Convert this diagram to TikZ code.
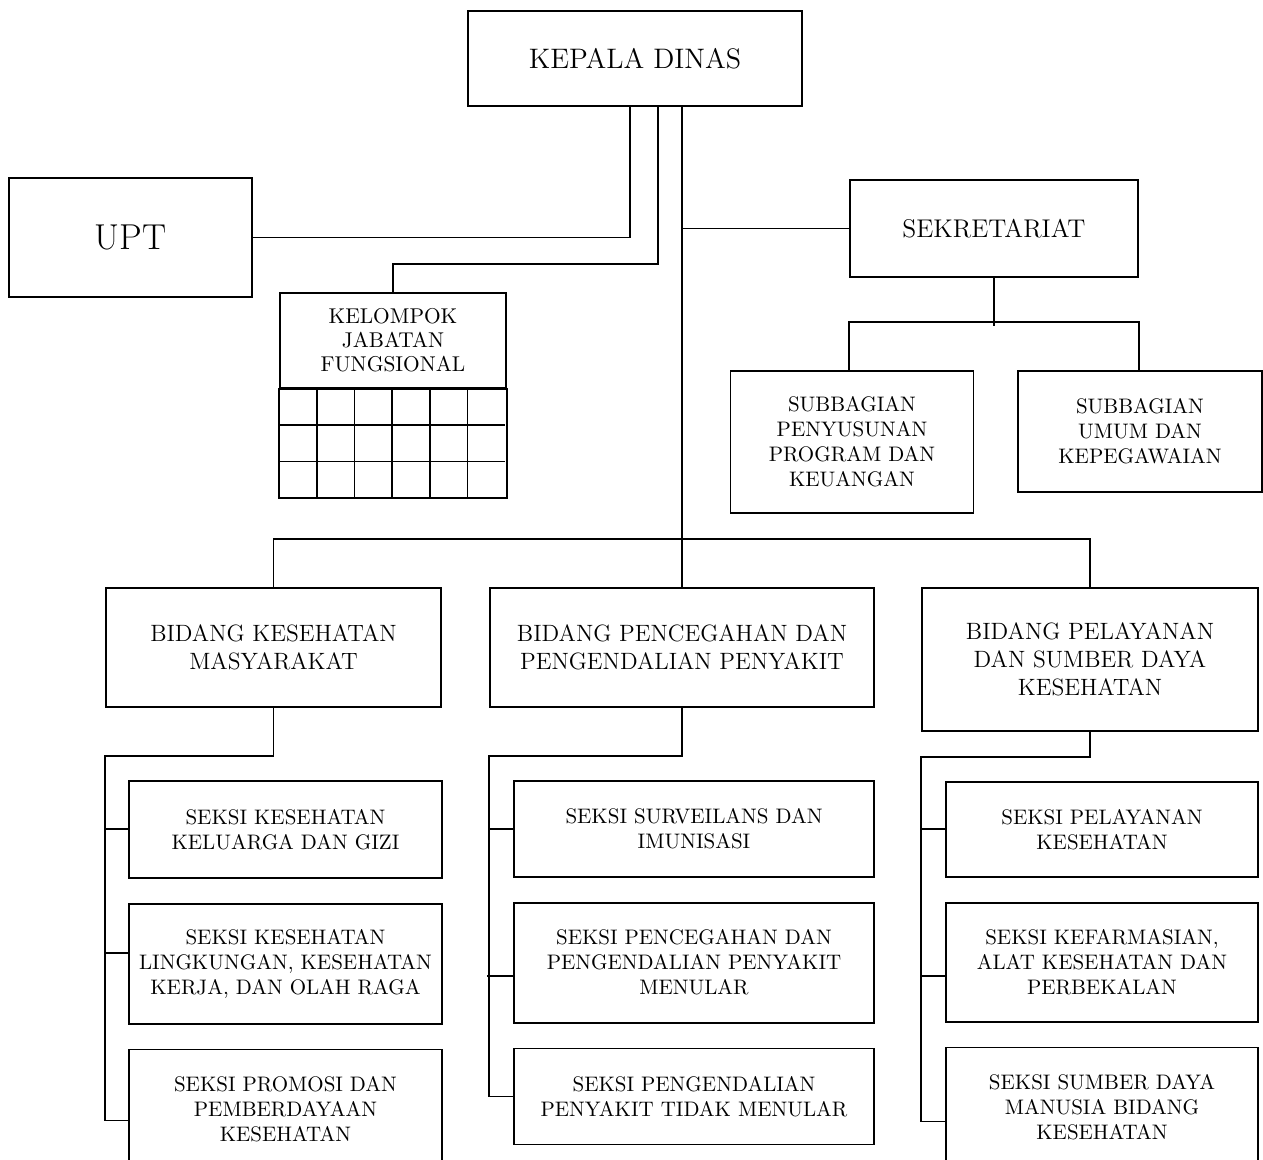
\documentclass[tikz,border=0pt]{standalone}
\usepackage{fontspec}
\usetikzlibrary{positioning}

\begin{document}
\begin{tikzpicture}[x=0.5pt, y=-0.5pt, line width=0.9pt,
        kepala/.style={rectangle, draw, font=\fontsize{14.1}{17}\selectfont, minimum width=167pt, minimum height=47.5pt},
        upt/.style={rectangle, draw, font=\fontsize{18}{21}\selectfont, minimum width=121.5pt, minimum height=59.5pt},
        jabfung/.style={rectangle, draw, font=\fontsize{10.7}{12}\selectfont, minimum width=113pt, minimum height=47.5pt},
        sekre/.style={rectangle, draw, font=\fontsize{12.8}{15}\selectfont, minimum width=144pt, minimum height=48.5pt},
        subbag/.style={rectangle, draw, font=\fontsize{10.5}{12.5}\selectfont, minimum width=121.5pt},
        bidang/.style={rectangle, draw, font=\fontsize{11.8}{14}\selectfont, minimum height=59.5pt},
        seksi/.style={rectangle, draw, font=\fontsize{10.5}{12.5}\selectfont},
    ]
\useasboundingbox (0,0) rectangle (1263,1160);

\node[kepala, align=center] (KepalaDinas) at (635,58.5) {KEPALA DINAS};
\node[upt, align=center] (UPT) at (130.5,237.5) {UPT};
\node[jabfung, align=center] (JabFung) at (393,340.5) {KELOMPOK\\JABATAN\\FUNGSIONAL};
\draw (JabFung.south west) rectangle ([yshift=-54.5pt]JabFung.south east);
\foreach \i in {1,...,5}
    \draw ([xshift=\i*18.83pt]JabFung.south west) -- ++(0,109);
\foreach \j in {1,2}
    \draw ([yshift=-\j*18.17pt]JabFung.south west) -- ++(226,0);

\draw (UPT.east) -| ([xshift=-2.5pt]KepalaDinas.south);
\draw ([xshift=11.5pt]KepalaDinas.south) |- ([yshift=14pt]JabFung.north) -- (JabFung.north);

\node[sekre, align=center] (Sekretariat) at (994,228.5) {SEKRETARIAT};
\node[subbag, align=center, minimum height=71pt] (SubbagProgram) at (852,442) {SUBBAGIAN\\PENYUSUNAN\\PROGRAM DAN\\KEUANGAN};
\node[subbag, align=center, minimum width=122pt, minimum height=60.5pt] (SubbagUmum) at (1140,431.5) {SUBBAGIAN\\UMUM DAN\\KEPEGAWAIAN};
\draw (Sekretariat.south) -- ([yshift=22pt]SubbagProgram.north -| Sekretariat.south);
\draw (Sekretariat.west |- SubbagProgram.north) |- ([yshift=24pt]SubbagUmum.north -| Sekretariat.east) -- (Sekretariat.east |- SubbagUmum.north);

\node[bidang, align=center, minimum width=167.5pt] (BidKesmas) at (273.5,647.5) {BIDANG KESEHATAN\\MASYARAKAT};
\node[bidang, align=center, minimum width=192pt] (BidP2P) at (682,647.5) {BIDANG PENCEGAHAN DAN\\PENGENDALIAN PENYAKIT};
\node[bidang, align=center, minimum width=168pt, minimum height=71.5pt] (BidYankes) at (1090,659.5) {BIDANG PELAYANAN\\DAN SUMBER DAYA\\KESEHATAN};

\draw ([xshift=23.5pt]KepalaDinas.south) -- (BidP2P.north);
\draw (Sekretariat.west) -- (Sekretariat.west -| BidP2P.north);
\draw (BidKesmas.north) |- ([yshift=24pt]BidP2P.north) -| (BidYankes.north);

\node[seksi, align=center, minimum width=156.5pt, minimum height=48.5pt, below right=36pt and 11.5pt of BidKesmas.south west] (SeksiKesga) {SEKSI KESEHATAN\\KELUARGA DAN GIZI};
\node[seksi, align=center, minimum width=156.5pt, minimum height=60pt, below=12pt of SeksiKesga] (SeksiKesling) {SEKSI KESEHATAN\\LINGKUNGAN, KESEHATAN\\KERJA, DAN OLAH RAGA};
\node[seksi, align=center, minimum width=156.5pt, minimum height=60pt, below=12pt of SeksiKesling] (SeksiPromkes) {SEKSI PROMOSI DAN\\PEMBERDAYAAN\\KESEHATAN};
\draw (BidKesmas.south) |- ([yshift=-24pt]BidKesmas.south west) |- ([yshift=-5.5pt]SeksiPromkes.west);
\draw (SeksiKesga.west) -- ++(-23,0);
\draw ([yshift=5.5pt]SeksiKesling.west) -- ++(-23,0);

\node[seksi, align=center, minimum width=180pt, minimum height=48pt, below right=36pt and 12pt of BidP2P.south west] (SeksiSurv) {SEKSI SURVEILANS DAN\\IMUNISASI};
\node[seksi, align=center, minimum width=180pt, minimum height=60pt, below=12pt of SeksiSurv] (SeksiP2PM) {SEKSI PENCEGAHAN DAN\\PENGENDALIAN PENYAKIT\\MENULAR};
\node[seksi, align=center, minimum width=180pt, minimum height=48pt, below=12pt of SeksiP2PM] (SeksiPTM) {SEKSI PENGENDALIAN\\PENYAKIT TIDAK MENULAR};
\draw (BidP2P.south) |- ([yshift=-24pt]BidP2P.south west) |- (SeksiPTM.west);
\draw (SeksiSurv.west) -- ++(-24,0);
\draw ([yshift=-6.5pt]SeksiP2PM.west) -- ++(-26,0);

\node[seksi, align=center, minimum width=156pt, minimum height=47.5pt, below right=24.5pt and 12pt of BidYankes.south west] (SeksiYankes) {SEKSI PELAYANAN\\KESEHATAN};
\node[seksi, align=center, minimum width=156pt, minimum height=59.5pt, below=12pt of SeksiYankes] (SeksiFarmasi) {SEKSI KEFARMASIAN,\\ALAT KESEHATAN DAN\\PERBEKALAN};
\node[seksi, align=center, minimum width=156pt, minimum height=60pt, below=12pt of SeksiFarmasi] (SeksiSDMK) {SEKSI SUMBER DAYA\\MANUSIA BIDANG\\KESEHATAN};
\draw (BidYankes.south) |- ([yshift=-12.5pt]BidYankes.south west) |- ([yshift=-7pt]SeksiSDMK.west);
\draw (SeksiYankes.west) -- ++(-24,0);
\draw ([yshift=-6.75pt]SeksiFarmasi.west) -- ++(-24,0);
\end{tikzpicture}
\end{document}
